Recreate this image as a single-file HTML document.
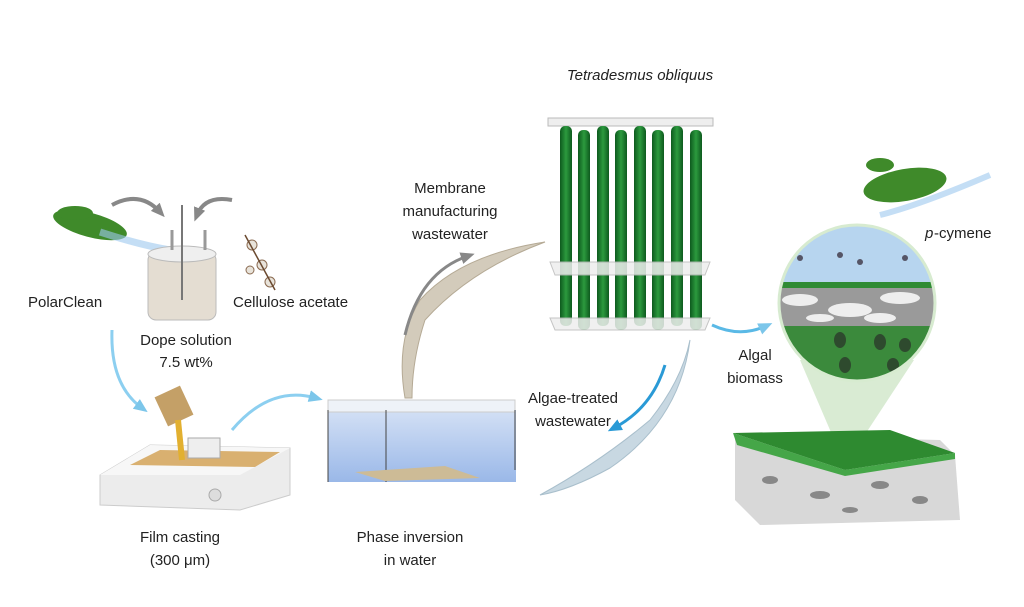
<!DOCTYPE html>
<html><head><meta charset="utf-8"><style>
html,body{margin:0;padding:0;background:#fff;}
svg{display:block;}
text{font-family:"Liberation Sans",sans-serif;font-size:15px;fill:#222;}
</style></head><body>
<svg width="1024" height="607" viewBox="0 0 1024 607" xmlns="http://www.w3.org/2000/svg">
<defs>
<linearGradient id="tank" x1="0" y1="0" x2="0" y2="1"><stop offset="0" stop-color="#d3e0f5"/><stop offset="1" stop-color="#9ab8e8"/></linearGradient>
<linearGradient id="tube" x1="0" y1="0" x2="1" y2="0"><stop offset="0" stop-color="#0d5a1e"/><stop offset=".5" stop-color="#2c9a3e"/><stop offset="1" stop-color="#0d5a1e"/></linearGradient>
<clipPath id="cc"><circle cx="857" cy="303" r="78"/></clipPath>
<marker id="ag" markerUnits="userSpaceOnUse" markerWidth="14" markerHeight="14" refX="7" refY="7" orient="auto"><path d="M0,1L14,7L0,13z" fill="#888"/></marker>
<marker id="ab" markerUnits="userSpaceOnUse" markerWidth="14" markerHeight="14" refX="7" refY="7" orient="auto"><path d="M0,1L14,7L0,13z" fill="#7cc6ea"/></marker>
<marker id="ad" markerUnits="userSpaceOnUse" markerWidth="14" markerHeight="14" refX="7" refY="7" orient="auto"><path d="M0,1L14,7L0,13z" fill="#2a9ad6"/></marker>
</defs>

<!-- herbs left -->
<g fill="#3f8a2a"><ellipse cx="90" cy="225" rx="38" ry="12" transform="rotate(15 90 225)"/><ellipse cx="75" cy="213" rx="18" ry="7"/></g>
<path d="M100,232 Q140,245 170,250" stroke="#9cc8ee" stroke-width="7" fill="none" opacity=".6"/>
<path d="M112,205 Q140,190 160,212" stroke="#888" stroke-width="4" fill="none" marker-end="url(#ag)"/>
<path d="M232,200 Q205,195 197,215" stroke="#888" stroke-width="4" fill="none" marker-end="url(#ag)"/>
<rect x="148" y="252" width="68" height="68" rx="8" fill="#e4ddd2" stroke="#bbb"/>
<ellipse cx="182" cy="254" rx="34" ry="8" fill="#efefef" stroke="#bbb"/>
<line x1="182" y1="205" x2="182" y2="300" stroke="#777" stroke-width="2"/>
<line x1="172" y1="230" x2="172" y2="250" stroke="#999" stroke-width="3"/>
<line x1="205" y1="230" x2="205" y2="250" stroke="#999" stroke-width="3"/>
<g fill="#e8e3da" stroke="#8a6a50"><circle cx="252" cy="245" r="5"/><circle cx="262" cy="265" r="5"/><circle cx="270" cy="282" r="5"/><circle cx="250" cy="270" r="4"/></g>
<path d="M245,235 L275,290" stroke="#6b4a30" stroke-width="1.5"/>

<text x="28" y="307">PolarClean</text>
<text x="233" y="307">Cellulose acetate</text>
<text x="186" y="345" text-anchor="middle">Dope solution</text>
<text x="186" y="367" text-anchor="middle">7.5 wt%</text>

<path d="M112,330 Q110,385 142,408" stroke="#8ccff0" stroke-width="3" fill="none" marker-end="url(#ab)"/>
<path d="M100,475 L150,445 L290,448 L290,495 L240,510 L100,505 Z" fill="#ececec" stroke="#ccc"/>
<path d="M100,475 L150,445 L290,448 L240,475 Z" fill="#f7f7f7"/>
<path d="M130,465 L160,450 L280,452 L255,467 Z" fill="#d9b070"/>
<rect x="160" y="390" width="28" height="32" fill="#c4a067" transform="rotate(-25 174 406)"/>
<path d="M178,420 L182,460" stroke="#e2b030" stroke-width="6"/>
<rect x="188" y="438" width="32" height="20" fill="#eee" stroke="#aaa"/>
<circle cx="215" cy="495" r="6" fill="#ddd" stroke="#aaa"/>
<text x="180" y="542" text-anchor="middle">Film casting</text>
<text x="180" y="565" text-anchor="middle">(300 μm)</text>

<path d="M232,430 Q270,385 316,398" stroke="#8ccff0" stroke-width="3" fill="none" marker-end="url(#ab)"/>
<rect x="328" y="410" width="188" height="72" fill="url(#tank)"/>
<path d="M328,400 L515,400 L515,412 L328,412 Z" fill="#eef2f8" stroke="#ccc"/>
<line x1="386" y1="410" x2="386" y2="482" stroke="#444"/>
<line x1="328" y1="410" x2="328" y2="482" stroke="#444"/>
<line x1="515" y1="410" x2="515" y2="470" stroke="#444"/>
<path d="M355,472 L445,466 L480,478 L385,481 Z" fill="#cdbb96"/>
<text x="410" y="542" text-anchor="middle">Phase inversion</text>
<text x="410" y="565" text-anchor="middle">in water</text>

<path d="M405,398 Q395,340 420,300 Q460,255 545,242 Q470,270 425,320 Q412,360 412,398 Z" fill="#d3cbbb" stroke="#b5aa95"/>
<path d="M405,335 Q420,272 468,256" stroke="#888" stroke-width="3" fill="none" marker-end="url(#ag)"/>
<text x="450" y="193" text-anchor="middle">Membrane</text>
<text x="450" y="216" text-anchor="middle">manufacturing</text>
<text x="450" y="239" text-anchor="middle">wastewater</text>

<text x="640" y="80" text-anchor="middle" font-style="italic">Tetradesmus obliquus</text>
<rect x="548" y="118" width="165" height="8" fill="#eee" stroke="#bbb"/>
<g fill="url(#tube)">
<rect x="560" y="126" width="12" height="200" rx="5"/><rect x="578" y="130" width="12" height="200" rx="5"/>
<rect x="597" y="126" width="12" height="200" rx="5"/><rect x="615" y="130" width="12" height="200" rx="5"/>
<rect x="634" y="126" width="12" height="200" rx="5"/><rect x="652" y="130" width="12" height="200" rx="5"/>
<rect x="671" y="126" width="12" height="200" rx="5"/><rect x="690" y="130" width="12" height="200" rx="5"/>
</g>
<path d="M550,262 L710,262 L705,275 L555,275 Z" fill="#eee" opacity=".85" stroke="#bbb"/>
<path d="M550,318 L710,318 L705,330 L555,330 Z" fill="#eee" opacity=".85" stroke="#bbb"/>

<path d="M690,340 Q680,420 610,468 Q570,490 540,495 Q600,462 650,420 Q682,380 690,340 Z" fill="#c8d8e2" stroke="#a9bfcc"/>
<path d="M665,365 Q652,408 614,428" stroke="#2a9ad6" stroke-width="3" fill="none" marker-end="url(#ad)"/>
<text x="573" y="403" text-anchor="middle">Algae-treated</text>
<text x="573" y="426" text-anchor="middle">wastewater</text>

<path d="M712,325 Q740,338 766,326" stroke="#5ab9e6" stroke-width="3" fill="none" marker-end="url(#ab)"/>
<text x="755" y="360" text-anchor="middle">Algal</text>
<text x="755" y="383" text-anchor="middle">biomass</text>

<g fill="#3f8a2a"><ellipse cx="905" cy="185" rx="42" ry="16" transform="rotate(-10 905 185)"/><ellipse cx="880" cy="165" rx="14" ry="7"/></g>
<path d="M880,215 Q920,205 990,175" stroke="#9cc8ee" stroke-width="6" fill="none" opacity=".6"/>
<text x="925" y="238" font-style="italic">p</text><text x="934" y="238">-cymene</text>

<path d="M800,360 L914,360 L845,465 Z" fill="#cfe6c8" opacity=".8"/>
<g clip-path="url(#cc)">
<rect x="770" y="220" width="180" height="62" fill="#b7d5ef"/>
<rect x="770" y="282" width="180" height="6" fill="#2f8b34"/>
<rect x="770" y="288" width="180" height="38" fill="#9a9a9a"/>
<g fill="#eee"><ellipse cx="800" cy="300" rx="18" ry="6"/><ellipse cx="850" cy="310" rx="22" ry="7"/><ellipse cx="900" cy="298" rx="20" ry="6"/><ellipse cx="880" cy="318" rx="16" ry="5"/><ellipse cx="820" cy="318" rx="14" ry="4"/></g>
<rect x="770" y="326" width="180" height="60" fill="#3b8a3c"/>
<g fill="#2e4a2e"><ellipse cx="840" cy="340" rx="6" ry="8"/><ellipse cx="880" cy="342" rx="6" ry="8"/><ellipse cx="905" cy="345" rx="6" ry="7"/><ellipse cx="845" cy="365" rx="6" ry="8"/><ellipse cx="893" cy="365" rx="6" ry="7"/></g>
<g fill="#556"><circle cx="800" cy="258" r="3"/><circle cx="840" cy="255" r="3"/><circle cx="860" cy="262" r="3"/><circle cx="905" cy="258" r="3"/></g>
</g>
<circle cx="857" cy="303" r="78" fill="none" stroke="#d7ebd0" stroke-width="3"/>

<path d="M735,435 L940,440 L955,455 L960,520 L760,525 L735,500 Z" fill="#d8d8d8"/>
<g fill="#888"><ellipse cx="770" cy="480" rx="8" ry="4"/><ellipse cx="820" cy="495" rx="10" ry="4"/><ellipse cx="880" cy="485" rx="9" ry="4"/><ellipse cx="920" cy="500" rx="8" ry="4"/><ellipse cx="850" cy="510" rx="8" ry="3"/></g>
<path d="M733,433 L890,430 L955,453 L845,470 Z" fill="#2e8a30"/>
<path d="M733,433 L845,470 L845,476 L737,445 Z" fill="#45a648"/>
<path d="M845,470 L955,453 L955,459 L845,476 Z" fill="#45a648"/>
</svg>
</body></html>
